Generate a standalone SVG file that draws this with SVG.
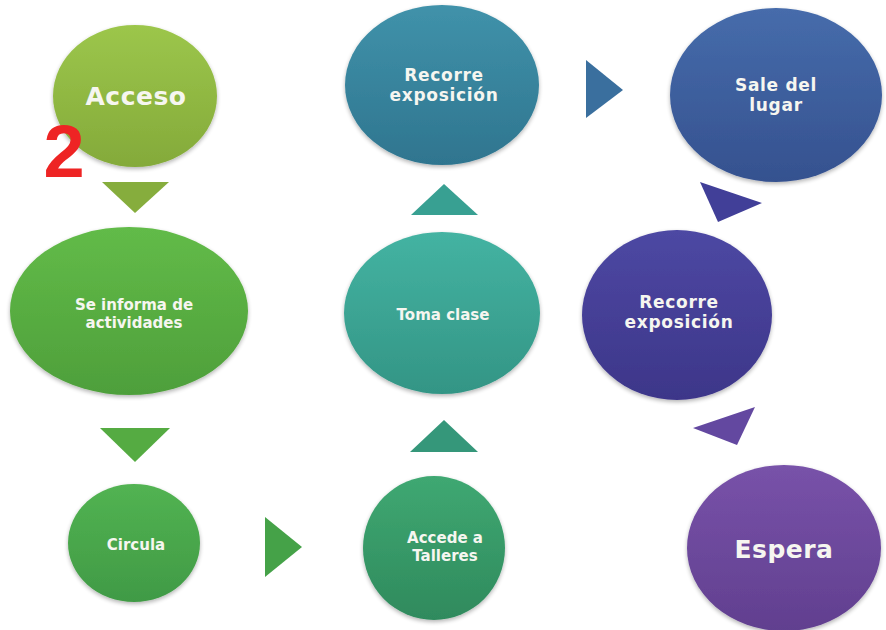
<svg xmlns="http://www.w3.org/2000/svg" width="886" height="630" viewBox="0 0 886 630">
<defs>
<linearGradient id="gAcc" x1="0" y1="0" x2="0" y2="1"><stop offset="0" stop-color="#9cc64b"/><stop offset="1" stop-color="#84aa3a"/></linearGradient>
<linearGradient id="gInf" x1="0" y1="0" x2="0" y2="1"><stop offset="0" stop-color="#62bb48"/><stop offset="1" stop-color="#4e9f3b"/></linearGradient>
<linearGradient id="gCir" x1="0" y1="0" x2="0" y2="1"><stop offset="0" stop-color="#52b352"/><stop offset="1" stop-color="#409a45"/></linearGradient>
<linearGradient id="gAcd" x1="0" y1="0" x2="0" y2="1"><stop offset="0" stop-color="#3fa872"/><stop offset="1" stop-color="#2f8a5d"/></linearGradient>
<linearGradient id="gTom" x1="0" y1="0" x2="0" y2="1"><stop offset="0" stop-color="#44b3a2"/><stop offset="1" stop-color="#339585"/></linearGradient>
<linearGradient id="gRec1" x1="0" y1="0" x2="0" y2="1"><stop offset="0" stop-color="#4092aa"/><stop offset="1" stop-color="#2f758f"/></linearGradient>
<linearGradient id="gSal" x1="0" y1="0" x2="0" y2="1"><stop offset="0" stop-color="#466cab"/><stop offset="1" stop-color="#35518f"/></linearGradient>
<linearGradient id="gRec2" x1="0" y1="0" x2="0" y2="1"><stop offset="0" stop-color="#4d48a3"/><stop offset="1" stop-color="#3d3689"/></linearGradient>
<linearGradient id="gEsp" x1="0" y1="0" x2="0" y2="1"><stop offset="0" stop-color="#7852a9"/><stop offset="1" stop-color="#613f8f"/></linearGradient>
<filter id="sh" x="-10%" y="-10%" width="120%" height="125%"><feGaussianBlur in="SourceAlpha" stdDeviation="2"/><feOffset dy="2"/><feComponentTransfer><feFuncA type="linear" slope="0.3"/></feComponentTransfer><feMerge><feMergeNode/><feMergeNode in="SourceGraphic"/></feMerge></filter>
</defs>
<style>
text{font-family:"DejaVu Sans",Verdana,sans-serif;font-weight:bold;fill:#f6f6f0;text-anchor:middle;}
.s{font-size:15px;}
.m{font-size:17px;letter-spacing:0.7px;}
.l{font-size:25px;letter-spacing:0.5px;}
ellipse{filter:url(#sh);}
</style>
<rect width="886" height="630" fill="#ffffff"/>
<g id="connectors">
<polygon points="102,182 169,182 135,213" fill="#86ad3d"/>
<polygon points="100,428 170,428 135,462" fill="#55ab42"/>
<polygon points="265,517 265,577 302,547" fill="#45a248"/>
<polygon points="410,452 478,452 444,420" fill="#35977a"/>
<polygon points="411,215 478,215 444,184" fill="#38a092"/>
<polygon points="586,60 586,118 623,90" fill="#3a6f9e"/>
<polygon points="700,182 762,203 718,222" fill="#413f98"/>
<polygon points="693,428 755,407 737,445" fill="#6348a0"/>
</g>
<g id="n-acceso"><ellipse cx="135" cy="96" rx="82" ry="71" fill="url(#gAcc)"/><text class="l" x="136" y="105">Acceso</text></g>
<g id="n-informa"><ellipse cx="129" cy="311" rx="119" ry="84" fill="url(#gInf)"/><text class="s" x="134" y="310">Se informa de</text><text class="s" x="134" y="328">actividades</text></g>
<g id="n-circula"><ellipse cx="134" cy="543" rx="66" ry="59" fill="url(#gCir)"/><text class="s" x="136" y="550">Circula</text></g>
<g id="n-accede"><ellipse cx="434" cy="548" rx="71" ry="72" fill="url(#gAcd)"/><text class="s" x="445" y="543">Accede a</text><text class="s" x="445" y="561">Talleres</text></g>
<g id="n-toma"><ellipse cx="442" cy="313" rx="98" ry="81" fill="url(#gTom)"/><text class="s" x="443" y="320">Toma clase</text></g>
<g id="n-recorre1"><ellipse cx="442" cy="85" rx="97" ry="80" fill="url(#gRec1)"/><text class="m" x="444" y="81">Recorre</text><text class="m" x="444" y="101">exposición</text></g>
<g id="n-sale"><ellipse cx="776" cy="95" rx="106" ry="87" fill="url(#gSal)"/><text class="m" x="776" y="91">Sale del</text><text class="m" x="776" y="111">lugar</text></g>
<g id="n-recorre2"><ellipse cx="677" cy="315" rx="95" ry="85" fill="url(#gRec2)"/><text class="m" x="679" y="308">Recorre</text><text class="m" x="679" y="328">exposición</text></g>
<g id="n-espera"><ellipse cx="784" cy="548" rx="97" ry="83" fill="url(#gEsp)"/><text class="l" x="784" y="558">Espera</text></g>
<text x="64" y="177" style="font-size:74px;fill:#ee2424;font-family:'Liberation Sans',Arial,sans-serif;font-weight:bold;text-anchor:middle">2</text>
</svg>
